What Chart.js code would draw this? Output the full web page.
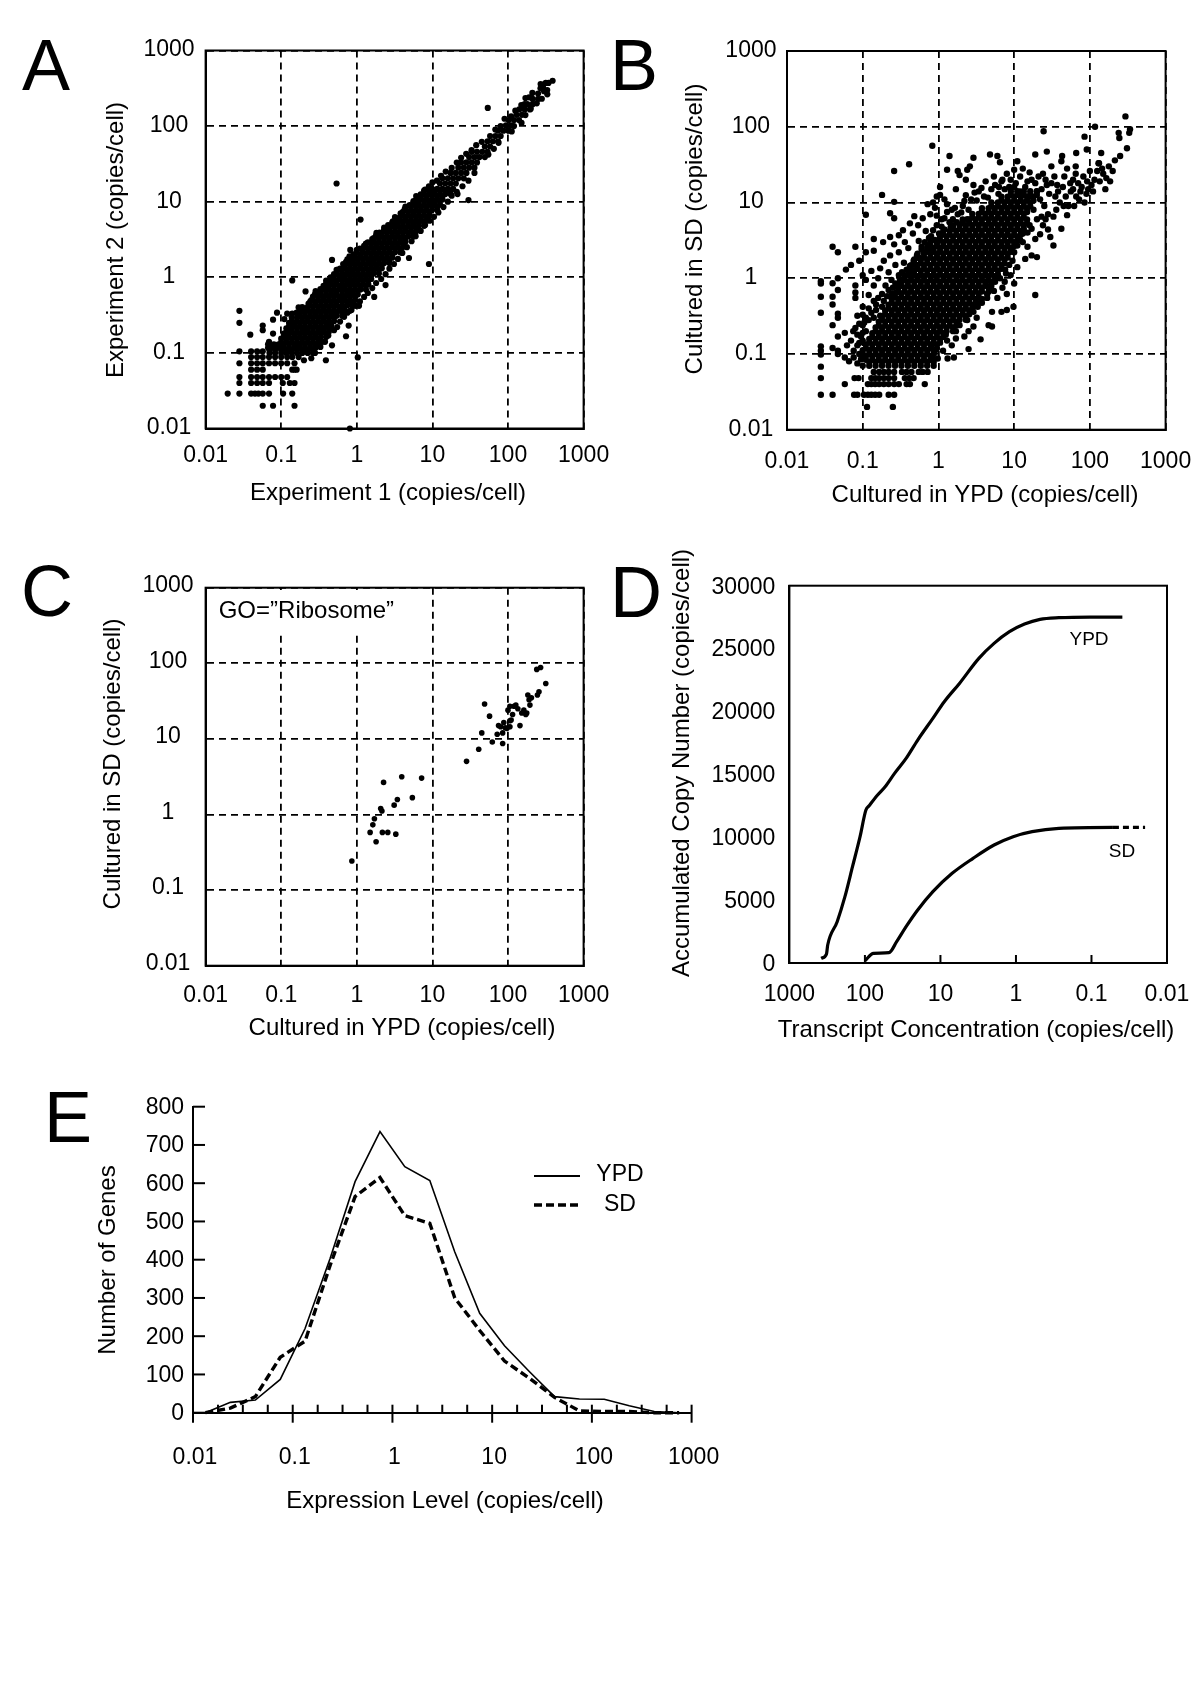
<!DOCTYPE html>
<html>
<head>
<meta charset="utf-8">
<title>Transcript copy number panels</title>
<script src="https://cdn.jsdelivr.net/npm/chart.js@4"></script>
<style>
	body { margin: 0; background: #fff; }
	canvas { position: absolute; left: 0; top: 0; }
	.letter { position: absolute; font: 72px "Liberation Sans", Arial, sans-serif; line-height: 72px; color: #000; }
</style>
</head>
<body>
<div style="position:relative;width:1200px;height:1697px;overflow:hidden">
	<canvas id="panelA" width="1200" height="1697"></canvas>
	<canvas id="panelB" width="1200" height="1697"></canvas>
	<canvas id="panelC" width="1200" height="1697"></canvas>
	<canvas id="panelD" width="1200" height="1697"></canvas>
	<canvas id="panelE" width="1200" height="1697"></canvas>
	<div class="letter" style="left:22px;top:29px">A</div>
	<div class="letter" style="left:610px;top:29px">B</div>
	<div class="letter" style="left:21px;top:555px">C</div>
	<div class="letter" style="left:610px;top:556px">D</div>
	<div class="letter" style="left:44px;top:1081px">E</div>
</div>
<script>
const decades = [0.01, 0.1, 1, 10, 100, 1000];
const FONT = '"Liberation Sans", Arial, sans-serif';

// Panel A: the dense band is read row by row (y value, then the x values on that row)
const expRowY = [0.1, 0.117, 0.138, 0.162, 0.19, 0.224, 0.263, 0.309, 0.363, 0.427, 0.5, 0.59, 0.69, 0.81, 0.95, 1.12, 1.32, 1.55, 1.82, 2.14, 2.51, 2.95, 3.47, 4.07, 4.79, 5.62, 6.6, 7.76, 9.12, 10.7, 12.6, 14.8, 17.4, 20.4, 24, 28.2, 33.1, 38.9, 45.7, 53.7, 63, 74, 87, 102, 120, 141, 166, 195, 229, 269, 316, 372];
const expFillRowY = [0.111, 0.13, 0.154, 0.18, 0.212, 0.25, 0.293, 0.344, 0.404, 0.476, 0.557, 0.657, 0.769, 0.902, 1.06, 1.25, 1.47, 1.73, 2.03, 2.38, 2.8, 3.29, 3.87, 4.53, 5.34, 6.26, 7.35, 8.64, 10.2, 11.9, 14];
const expRowX = [
	[0.07, 0.083, 0.1, 0.117, 0.138, 0.162, 0.19, 0.224, 0.263],
	[0.067, 0.08, 0.092, 0.108, 0.127, 0.15, 0.176, 0.206, 0.242, 0.285],
	[0.1, 0.117, 0.138, 0.162, 0.19, 0.224, 0.263, 0.309],
	[0.108, 0.127, 0.15, 0.176, 0.206, 0.242, 0.285, 0.335, 0.393],
	[0.117, 0.138, 0.162, 0.19, 0.224, 0.263, 0.309, 0.363, 0.427],
	[0.127, 0.15, 0.176, 0.206, 0.242, 0.285, 0.335, 0.393, 0.46],
	[0.138, 0.162, 0.19, 0.224, 0.263, 0.309, 0.363, 0.427, 0.5],
	[0.176, 0.206, 0.242, 0.285, 0.335, 0.393, 0.46, 0.54, 0.64],
	[0.19, 0.224, 0.263, 0.309, 0.363, 0.427, 0.5, 0.59, 0.69],
	[0.242, 0.285, 0.335, 0.393, 0.46, 0.54, 0.64, 0.75, 0.88],
	[0.263, 0.309, 0.363, 0.427, 0.5, 0.59, 0.69, 0.81, 0.95],
	[0.285, 0.335, 0.393, 0.46, 0.54, 0.64, 0.75, 0.88, 1.03],
	[0.363, 0.427, 0.5, 0.59, 0.69, 0.81, 0.95, 1.12, 1.32],
	[0.393, 0.46, 0.54, 0.64, 0.75, 0.88, 1.03, 1.21, 1.42],
	[0.5, 0.59, 0.69, 0.81, 0.95, 1.12, 1.32, 1.55],
	[0.54, 0.64, 0.75, 0.88, 1.03, 1.21, 1.42, 1.67, 1.96],
	[0.69, 0.81, 0.95, 1.12, 1.32, 1.55, 1.82, 2.14],
	[0.75, 0.88, 1.03, 1.21, 1.42, 1.67, 1.96, 2.3, 2.7],
	[0.95, 1.12, 1.32, 1.55, 1.82, 2.14, 2.51, 2.95],
	[1.21, 1.42, 1.67, 1.96, 2.3, 2.7, 3.2, 3.75],
	[1.32, 1.55, 1.82, 2.14, 2.51, 2.95, 3.47, 4.07],
	[1.67, 1.96, 2.3, 2.7, 3.2, 3.75, 4.4],
	[1.82, 2.14, 2.51, 2.95, 3.47, 4.07, 4.79, 5.62],
	[2.3, 2.7, 3.2, 3.75, 4.4, 5.2, 6.1],
	[2.95, 3.47, 4.07, 4.79, 5.62, 6.6, 7.76],
	[3.2, 3.75, 4.4, 5.2, 6.1, 7.1, 8.4],
	[4.07, 4.79, 5.62, 6.6, 7.76, 9.12],
	[4.4, 5.2, 6.1, 7.1, 8.4, 9.9, 11.6],
	[5.62, 6.6, 7.76, 9.12, 10.7, 12.6],
	[6.1, 7.1, 8.4, 9.9, 11.6, 13.6],
	[7.76, 9.12, 10.7, 12.6, 14.8, 17.4],
	[9.9, 11.6, 13.6, 16, 18.8],
	[12.6, 14.8, 17.4, 20.4],
	[13.6, 16, 18.8, 22, 26],
	[17.4, 20.4, 24, 28.2],
	[22, 26, 30.6, 36],
	[24, 28.2, 33.1, 38.9],
	[30.6, 36, 42, 49.4],
	[33.1, 38.9, 45.7, 53.7],
	[49.4, 58],
	[53.7, 63, 74],
	[68, 80],
	[74, 87, 102],
	[94, 110],
	[102, 120],
	[130, 153],
	[141, 166, 195],
	[166, 180, 212],
	[212, 250],
	[250],
	[269, 292],
	[316, 343],
];
// Panel A: the quantised low-count rows and the loose outliers
const expLooseX = [0.057, 0.078, 0.15, 0.0196, 0.028, 0.04, 0.045, 0.05, 0.057, 0.069, 0.106, 0.14, 0.028, 0.04, 0.048, 0.057, 0.069, 0.105, 0.13, 0.15, 0.028, 0.04, 0.048, 0.057, 0.069, 0.083, 0.1, 0.12, 0.04, 0.048, 0.057, 0.14, 0.15, 0.028, 0.04, 0.048, 0.057, 0.069, 0.083, 0.1, 0.12, 0.15, 0.04, 0.048, 0.057, 0.069, 0.083, 0.1, 0.12, 0.14, 0.17, 0.028, 0.04, 0.048, 0.057, 0.028, 0.028, 0.039, 0.057, 0.057, 0.078, 0.088, 0.078, 0.069, 0.075, 389, 331, 295, 54, 112, 151, 0.54, 1.12, 30, 21.5, 4.9, 9, 0.82, 0.47, 0.14, 0.21, 2.4, 1.7, 1.07, 0.81, 0.78, 0.72, 0.47, 0.39, 1.03, 0.81, 0.35, 0.42, 0.2, 0.16];
const expLooseY = [0.02, 0.02, 0.02, 0.029, 0.029, 0.029, 0.029, 0.029, 0.029, 0.029, 0.029, 0.029, 0.04, 0.04, 0.04, 0.04, 0.04, 0.04, 0.04, 0.04, 0.048, 0.048, 0.048, 0.048, 0.048, 0.048, 0.048, 0.048, 0.06, 0.06, 0.06, 0.06, 0.06, 0.073, 0.073, 0.073, 0.073, 0.073, 0.073, 0.073, 0.073, 0.073, 0.088, 0.088, 0.088, 0.088, 0.088, 0.088, 0.088, 0.088, 0.088, 0.105, 0.105, 0.105, 0.105, 0.36, 0.25, 0.174, 0.23, 0.2, 0.275, 0.34, 0.18, 0.14, 0.12, 398, 263, 355, 174, 85, 110, 17.4, 5.8, 10.5, 12.6, 1.8, 1.5, 2.3, 1.7, 0.91, 0.65, 0.79, 0.55, 0.42, 0.36, 0.23, 0.166, 0.126, 0.08, 0.087, 0.01, 0.14, 0.22, 0.08, 0.06];
// Panel A: dots along both edges of the band, as [exp 1, exp 2]
const expEdges = [
	[0.11, 0.28], [0.12, 0.33], [0.14, 0.33], [0.16, 0.34], [0.19, 0.36], [0.13, 0.24], [0.12, 0.2], [0.11, 0.17], [0.17, 0.4], [0.23, 0.45], [0.25, 0.5], [0.28, 0.6], [0.3, 0.62], [0.33, 0.7], [0.37, 0.75], [0.4, 0.85], [0.45, 1], [0.5, 1.1], [0.55, 1.25], [0.6, 1.3], [0.66, 1.5], [0.72, 1.6], [0.8, 1.9], [0.9, 2], [1, 2.3], [1.1, 2.4], [1.25, 2.6], [1.4, 2.9], [1.6, 3.2], [1.8, 3.6], [2, 3.9], [2.3, 4.2], [2.6, 4.9], [3, 5.5], [3.4, 6], [3.8, 7], [4.3, 8], [5, 9], [5.6, 9.8], [6.3, 11.5], [7, 12.5], [8, 14.5], [9, 16], [10, 18], [11.5, 19], [13, 22], [15, 25], [18, 28], [21, 33], [24, 38], [28, 43], [33, 48], [38, 56], [45, 62],
	[0.25, 0.085], [0.28, 0.1], [0.33, 0.12], [0.38, 0.14], [0.42, 0.17], [0.5, 0.2], [0.55, 0.22], [0.6, 0.26], [0.68, 0.3], [0.75, 0.34], [0.85, 0.37], [0.95, 0.42], [1.1, 0.48], [1.25, 0.55], [1.4, 0.62], [1.6, 0.72], [1.8, 0.84], [2.1, 0.95], [2.4, 1.1], [2.7, 1.3], [3.1, 1.5], [3.5, 1.75], [4, 2.1], [4.6, 2.5], [5.3, 3], [6, 3.5], [7, 4.1], [8, 4.9], [9.2, 5.6], [10.5, 6.3], [12, 7.2], [14, 8.5], [16, 10], [18, 12], [21, 13.5], [25, 16], [30, 19], [36, 24],
	[58, 74], [68, 90], [80, 100], [90, 125], [110, 135], [125, 160], [150, 190], [170, 235], [190, 240], [210, 275], [270, 360], [300, 290], [55, 42], [65, 50], [75, 60], [100, 88], [120, 100], [140, 120], [170, 140], [200, 170], [240, 200], [280, 230], [330, 300],
];

// Panel B: same layout, core of the cloud by rows
const growRowY = [0.07, 0.084, 0.1, 0.119, 0.141, 0.168, 0.2, 0.237, 0.282, 0.335, 0.398, 0.473, 0.562, 0.668, 0.794, 0.944, 1.12, 1.33, 1.58, 1.88, 2.24, 2.66, 3.16, 3.76, 4.47, 5.31, 6.31, 7.5, 8.91, 10.6, 12.6];
const growFillRowY = [0.0785, 0.094, 0.112, 0.134, 0.158, 0.188, 0.224, 0.266, 0.316, 0.376, 0.447, 0.531, 0.631, 0.75, 0.891, 1.06, 1.26, 1.49, 1.77, 2.11, 2.51, 2.98, 3.55, 4.22, 5.02, 5.96, 7.08, 8.41, 10, 11.9, 14.1];
const growRowX = [
	[0.122, 0.148, 0.18, 0.219, 0.267, 0.325, 0.395, 0.48, 0.585, 0.71, 0.865],
	[0.11, 0.134, 0.163, 0.198, 0.242, 0.294, 0.358, 0.435, 0.53, 0.645, 0.785],
	[0.1, 0.122, 0.148, 0.18, 0.219, 0.267, 0.325, 0.395, 0.48, 0.585, 0.71, 0.865],
	[0.11, 0.134, 0.163, 0.198, 0.242, 0.294, 0.358, 0.435, 0.53, 0.645, 0.785, 0.955],
	[0.122, 0.148, 0.18, 0.219, 0.267, 0.325, 0.395, 0.48, 0.585, 0.71, 0.865, 1.05],
	[0.134, 0.163, 0.198, 0.242, 0.294, 0.358, 0.435, 0.53, 0.645, 0.785, 0.955, 1.16],
	[0.148, 0.18, 0.219, 0.267, 0.325, 0.395, 0.48, 0.585, 0.71, 0.865, 1.05, 1.28, 1.56],
	[0.163, 0.198, 0.242, 0.294, 0.358, 0.435, 0.53, 0.645, 0.785, 0.955, 1.16, 1.41, 1.72],
	[0.18, 0.219, 0.267, 0.325, 0.395, 0.48, 0.585, 0.71, 0.865, 1.05, 1.28, 1.56, 1.9, 2.3],
	[0.198, 0.242, 0.294, 0.358, 0.435, 0.53, 0.645, 0.785, 0.955, 1.16, 1.41, 1.72, 2.09, 2.55],
	[0.219, 0.267, 0.325, 0.395, 0.48, 0.585, 0.71, 0.865, 1.05, 1.28, 1.56, 1.9, 2.3, 2.8],
	[0.242, 0.294, 0.358, 0.435, 0.53, 0.645, 0.785, 0.955, 1.16, 1.41, 1.72, 2.09, 2.55, 3.1, 3.75],
	[0.267, 0.325, 0.395, 0.48, 0.585, 0.71, 0.865, 1.05, 1.28, 1.56, 1.9, 2.3, 2.8, 3.4],
	[0.294, 0.358, 0.435, 0.53, 0.645, 0.785, 0.955, 1.16, 1.41, 1.72, 2.09, 2.55, 3.1, 3.75, 4.6],
	[0.325, 0.395, 0.48, 0.585, 0.71, 0.865, 1.05, 1.28, 1.56, 1.9, 2.3, 2.8, 3.4, 4.15, 5],
	[0.358, 0.435, 0.53, 0.645, 0.785, 0.955, 1.16, 1.41, 1.72, 2.09, 2.55, 3.1, 3.75, 4.6, 5.55],
	[0.395, 0.48, 0.585, 0.71, 0.865, 1.05, 1.28, 1.56, 1.9, 2.3, 2.8, 3.4, 4.15, 5, 6.1],
	[0.435, 0.53, 0.645, 0.785, 0.955, 1.16, 1.41, 1.72, 2.09, 2.55, 3.1, 3.75, 4.6, 5.55, 6.8],
	[0.48, 0.585, 0.71, 0.865, 1.05, 1.28, 1.56, 1.9, 2.3, 2.8, 3.4, 4.15, 5, 6.1, 7.45],
	[0.53, 0.645, 0.785, 0.955, 1.16, 1.41, 1.72, 2.09, 2.55, 3.1, 3.75, 4.6, 5.55, 6.8, 8.2],
	[0.71, 0.865, 1.05, 1.28, 1.56, 1.9, 2.3, 2.8, 3.4, 4.15, 5, 6.1, 7.45, 9.05],
	[0.785, 0.955, 1.16, 1.41, 1.72, 2.09, 2.55, 3.1, 3.75, 4.6, 5.55, 6.8, 8.2, 10],
	[1.05, 1.28, 1.56, 1.9, 2.3, 2.8, 3.4, 4.15, 5, 6.1, 7.45, 9.05, 11],
	[1.16, 1.41, 1.72, 2.09, 2.55, 3.1, 3.75, 4.6, 5.55, 6.8, 8.2, 10, 12.2],
	[1.56, 1.9, 2.3, 2.8, 3.4, 4.15, 5, 6.1, 7.45, 9.05, 11, 13.4],
	[2.09, 2.55, 3.1, 3.75, 4.6, 5.55, 6.8, 8.2, 10, 12.2, 14.8],
	[2.8, 3.4, 4.15, 5, 6.1, 7.45, 9.05, 11, 13.4],
	[3.75, 4.6, 5.55, 6.8, 8.2, 10, 12.2, 14.8],
	[5, 6.1, 7.45, 9.05, 11, 13.4, 16.3],
	[6.8, 8.2, 10, 12.2, 14.8, 18],
	[9.05, 11, 13.4, 16.3, 19.9],
];
// Panel B: everything outside the solid core, as [YPD, SD]
const growLoose = [
	[295, 137], [117, 100], [24.5, 87], [85, 74], [240, 83], [245, 71], [339, 93], [331, 83], [309, 52], [251, 41], [214, 36], [178, 30],
	[0.83, 56], [1.4, 41], [0.41, 32], [0.26, 26], [0.18, 12.6], [0.26, 10.2], [0.23, 7.2], [0.26, 6.2], [0.11, 6.9],
	[4.8, 43], [6, 41], [6.5, 34], [2.9, 39], [2.6, 30], [1.3, 27], [1.8, 26], [2.4, 27], [11, 35], [10, 27],
	[19, 43], [27, 47], [43, 41], [66, 45], [65, 30], [91, 50], [141, 45], [132, 33],
	[14, 16], [17, 20], [20, 14], [24, 24], [27, 17], [31, 30], [34, 22], [38, 14], [42, 35], [46, 22], [50, 28], [55, 18], [60, 15], [62, 9], [66, 12], [70, 18], [75, 14], [85, 10], [90, 13], [95, 15], [105, 17], [115, 20], [125, 26], [135, 19], [150, 24], [165, 21], [185, 19], [200, 26], [160, 15], [130, 33], [145, 28],
	[22, 11], [25, 9], [28, 7], [33, 6.5], [18, 8], [20, 6], [24, 5], [30, 3.5], [33, 2.7], [42, 4.5], [36, 8], [45, 9], [50, 6.8], [16, 5], [13, 3], [15, 2.6], [17, 2], [20, 1.9], [14, 1.8], [11, 1.4], [9, 1.1], [7.6, 1.3],
	[19, 0.6], [9.8, 0.42], [8, 0.38], [6.8, 0.36], [5.1, 0.36], [5.1, 0.23], [4.6, 0.24], [3.6, 0.156], [2.5, 0.116], [1.32, 0.087], [0.98, 0.087], [7, 0.75], [5.4, 0.68], [4.4, 0.55], [3.2, 0.3], [2.9, 0.23], [2.2, 0.17], [1.7, 0.2], [1.3, 0.15],
	[0.028, 0.91], [0.028, 0.85], [0.028, 0.57], [0.028, 0.35], [0.028, 0.126], [0.028, 0.11], [0.028, 0.098], [0.028, 0.068], [0.028, 0.048], [0.028, 0.029],
	[0.04, 0.86], [0.04, 0.57], [0.04, 0.45], [0.04, 0.24], [0.04, 0.12], [0.04, 0.029], [0.047, 1], [0.047, 0.7], [0.047, 0.34], [0.047, 0.3], [0.047, 0.17], [0.047, 0.11], [0.047, 0.1],
	[0.058, 0.19], [0.058, 0.09], [0.062, 0.13], [0.066, 0.08], [0.07, 0.15], [0.076, 0.11], [0.076, 0.09], [0.08, 0.22], [0.085, 0.32], [0.085, 0.13], [0.09, 0.25], [0.095, 0.17], [0.1, 0.33], [0.1, 0.24], [0.11, 0.3], [0.11, 0.2],
	[0.04, 2.6], [0.047, 2.2], [0.08, 2.6], [0.11, 2.2], [0.14, 3.3], [0.14, 2.3], [0.186, 3], [0.23, 3.5], [0.3, 3.7], [0.06, 1.3], [0.07, 1.5], [0.09, 1.7], [0.1, 1.1], [0.11, 0.95], [0.13, 1.25], [0.14, 0.8], [0.16, 1], [0.08, 0.8], [0.08, 0.65], [0.08, 0.55], [0.1, 0.42], [0.12, 0.6], [0.14, 0.5], [0.15, 0.38], [0.18, 0.62], [0.2, 0.8], [0.22, 1.2], [0.19, 1.7], [0.23, 2], [0.27, 1.5], [0.3, 2.2], [0.26, 2.8], [0.17, 1.35], [0.24, 0.95], [0.3, 1.1], [0.35, 1.6], [0.4, 2.5], [0.36, 3],
	[0.34, 4.3], [0.42, 5.3], [0.48, 6.6], [0.46, 3.9], [0.55, 3.1], [0.68, 4.2], [0.54, 5], [0.62, 6.2], [0.78, 7], [0.9, 8.5], [0.95, 12], [1.05, 12.6], [1.2, 11], [0.95, 6.7], [1.2, 6.2], [1.5, 8], [1.8, 7], [2.1, 9], [2.4, 6], [1.1, 4.8], [1.45, 4.7], [0.8, 3.6], [0.6, 2.4], [0.72, 9.5], [1.3, 9.5], [1.7, 15], [2.3, 12.5], [2.9, 17], [3.2, 10.6], [3.7, 15.5], [4.5, 11.6], [5.6, 17], [7, 20], [8.6, 16], [10.5, 18], [6.2, 13], [1.05, 16], [0.85, 10], [2.3, 20], [1.9, 23],
	[0.114, 0.02], [0.25, 0.02], [0.077, 0.029], [0.085, 0.029], [0.104, 0.029], [0.117, 0.029], [0.13, 0.029], [0.146, 0.029], [0.165, 0.029], [0.22, 0.029], [0.26, 0.029],
	[0.058, 0.04], [0.078, 0.048], [0.088, 0.048], [0.117, 0.04], [0.13, 0.04], [0.146, 0.04], [0.165, 0.04], [0.19, 0.04], [0.22, 0.04], [0.26, 0.04], [0.3, 0.04], [0.38, 0.04], [0.42, 0.04], [0.66, 0.04],
	[0.13, 0.048], [0.146, 0.048], [0.165, 0.048], [0.19, 0.048], [0.22, 0.048], [0.26, 0.048], [0.36, 0.048], [0.41, 0.048], [0.47, 0.048], [0.14, 0.058], [0.165, 0.058], [0.19, 0.058], [0.22, 0.058], [0.26, 0.058], [0.33, 0.058], [0.38, 0.058], [0.44, 0.058], [0.55, 0.058], [0.62, 0.058], [0.72, 0.058],
	[0.12, 0.4], [0.13, 0.35], [0.14, 0.3], [0.15, 0.45], [0.16, 0.55], [0.17, 0.32], [0.18, 0.42], [0.19, 0.5], [0.21, 0.58], [0.22, 0.7], [0.24, 0.62], [0.25, 0.75], [0.27, 0.85], [0.28, 0.65], [0.3, 0.8], [0.31, 0.95], [0.33, 1.2], [0.36, 1.05], [0.38, 1.3], [0.42, 1.45], [0.44, 1.2], [0.47, 1.7], [0.5, 1.5], [0.52, 2], [0.56, 1.85], [0.6, 2.6], [0.64, 2.2], [0.66, 3], [0.72, 2.7], [0.75, 3.4], [0.8, 2.5], [0.85, 4.3], [0.9, 3.2], [0.95, 5], [1.02, 3.9], [1.1, 6], [1.2, 4.4], [1.3, 7.5], [1.4, 5.5], [1.55, 6], [1.65, 8.5], [1.75, 5.5], [2, 7.4], [2.2, 10.5], [2.5, 8], [2.7, 11], [3, 13.5], [3.4, 14], [4, 12], [4.2, 19], [5, 15], [5.4, 22], [6.3, 16], [6.8, 19], [7.5, 15], [8, 24], [9, 20], [10, 16], [12, 22], [13, 28], [12, 14], [15, 19], [16, 25], [17, 12], [19, 18], [21, 22], [23, 15], [26, 20], [29, 13], [31, 18], [35, 12], [37, 17], [40, 10], [44, 16], [48, 12], [52, 9], [56, 14], [60, 20], [65, 24], [72, 11], [78, 16], [82, 22], [92, 19], [100, 26], [110, 14],
	[2.4, 0.28], [2.9, 0.36], [3.3, 0.42], [3.6, 0.48], [4.4, 0.62], [4.9, 0.8], [5.6, 0.9], [6.5, 1], [7.8, 1.15], [8.6, 1.5], [9.5, 1.7], [10, 2.2], [9, 2.5], [11, 2.7], [12, 3.2], [13, 3.9], [15, 4], [17, 4.5], [19, 3.3], [22, 3.8], [23, 6.5], [26, 6], [28, 4.4], [8, 0.62], [10, 0.85], [7.5, 0.9], [6, 0.55], [1.5, 0.13], [1.15, 0.11], [0.9, 0.11], [0.8, 0.13], [1.9, 0.24], [2.5, 0.2], [1.6, 0.09], [0.85, 0.085], [1.25, 0.18], [1.7, 0.16],
	[0.085, 0.075], [0.09, 0.1], [0.095, 0.085], [0.1, 0.07], [0.09, 0.14], [0.085, 0.18], [0.075, 0.2], [0.1, 0.15], [0.1, 0.19], [0.105, 0.26], [0.12, 0.28],
];

// Panel C: ribosomal genes
const riboYpd = [0.86, 1.5, 1.8, 2.18, 2.57, 3.28, 1.63, 1.71, 2.07, 2.15, 3.12, 3.44, 5.43, 2.26, 3.93, 7.2, 28.3, 41, 45, 49, 57, 62, 72, 75, 85, 85, 88, 97, 106, 106, 110, 100, 106, 120, 127, 144, 152, 162, 177, 195, 183, 204, 245, 257, 316, 240, 270, 92, 80, 115, 135, 172, 190];
const riboSd = [0.243, 0.58, 0.437, 0.58, 0.58, 0.55, 0.73, 0.88, 1.2, 1.11, 1.33, 1.58, 1.67, 2.66, 3.16, 3.03, 5.05, 7.3, 12, 29, 20, 9.1, 11.5, 15, 8.7, 12, 16.5, 13.8, 14.5, 17.4, 17.8, 24, 27, 27, 28, 15, 22, 24, 22, 28, 38, 35, 38, 42, 54, 83, 88, 14, 14.5, 21, 25, 21, 33];

// Panel D: accumulated copy number against concentration
const accumYpdX = [380, 323, 311, 233, 184, 146, 116, 97, 88, 68, 54, 40.5, 28.5, 20, 12.6, 8.9, 5.6, 3.1, 1.95, 1.22, 0.77, 0.48, 0.27, 0.105, 0.039];
const accumYpdY = [371, 715, 1431, 3286, 5273, 7658, 10043, 12163, 12500, 13356, 14018, 15078, 16271, 17728, 19451, 20776, 22233, 24221, 25413, 26341, 26950, 27321, 27454, 27507, 27507];
const accumSdX = [100, 77, 48, 38, 28.5, 20, 12.6, 7, 3.7, 1.95, 1.09, 0.61, 0.27, 0.052, 0.0195];
const accumSdY = [186, 769, 822, 1696, 2889, 4214, 5671, 7129, 8321, 9381, 10044, 10441, 10706, 10786, 10786];
const accumTicks = [100, 10, 1, 0.1];
const accumYTicks = [0, 5000, 10000, 15000, 20000, 25000, 30000];

// Panel E: histogram of expression levels
const binCentres = [0.0133, 0.0237, 0.0422, 0.075, 0.133, 0.237, 0.422, 0.75, 1.33, 2.37, 4.22, 7.5, 13.3, 23.7, 42.2, 75, 133, 237, 422, 750];
const genesYpd = [0, 27, 33, 87, 220, 403, 604, 735, 643, 607, 420, 260, 175, 107, 42, 36, 35, 18, 3, 0];
const genesSd = [0, 12, 42, 145, 187, 385, 565, 615, 515, 495, 300, 215, 135, 90, 40, 5, 3, 3, 0, 0];
const histMinorTicks = [0.0178, 0.0316, 0.0562, 0.178, 0.316, 0.562, 1.78, 3.16, 5.62, 17.8, 31.6, 56.2, 178, 316, 562];
const histYTicks = [0, 100, 200, 300, 400, 500, 600, 700, 800];

function rowsToPoints(rowY, rowX) {
	return rowY.flatMap((y, i) => rowX[i].map((x) => ({ x, y })));
}

// Writes real text on the canvas, optionally rotated
function drawText(ctx, text, x, y, size, rotate, align) {
	ctx.save();
	ctx.translate(x, y);
	if (rotate) ctx.rotate(-Math.PI / 2);
	ctx.font = `${size}px ${FONT}`;
	ctx.fillStyle = "#000";
	ctx.textAlign = align || "center";
	ctx.textBaseline = "middle";
	ctx.fillText(text, 0, 0);
	ctx.restore();
}

function notesPlugin(notes) {
	return {
		id: "notes",
		afterDraw(chart) {
			notes.forEach((n) => drawText(chart.ctx, n.text, n.x, n.y, n.size || 24, n.rotate, n.align));
		},
	};
}

const framePlugin = {
	id: "frame",
	afterDatasetsDraw(chart) {
		const { ctx, chartArea: a } = chart;
		ctx.save();
		ctx.strokeStyle = "#000";
		ctx.lineWidth = 2;
		ctx.strokeRect(a.left, a.top, a.right - a.left, a.bottom - a.top);
		ctx.restore();
	},
};

// Shared set up: places the plot area at page coordinates
function areaPadding(box, yWidth, xHeight) {
	return {
		left: box.left - yWidth,
		top: box.top,
		right: 1200 - box.right,
		bottom: 1697 - box.bottom - xHeight,
	};
}

function fitX(height) {
	return (s) => { s.height = height; s.paddingLeft = 0; s.paddingRight = 0; };
}

function fitY(width) {
	return (s) => { s.width = width; s.paddingTop = 0; s.paddingBottom = 0; };
}

function logScale(extra) {
	return Object.assign({
		type: "logarithmic",
		min: 0.01,
		max: 1000,
		afterBuildTicks: (s) => { s.ticks = decades.map((value) => ({ value })); },
	}, extra);
}

function decadeTicks(padding, extra) {
	return Object.assign({
		autoSkip: false,
		maxRotation: 0,
		padding,
		color: "#000",
		font: { family: FONT, size: 23 },
		callback: (v) => String(v),
	}, extra);
}

function scatterPanel(id, box, points, dot, pad, notes, extraPlugins) {
	const dash = [7, 5];
	const gridOpts = { color: "#000", lineWidth: 1.8, drawTicks: false };
	new Chart(document.getElementById(id), {
		type: "scatter",
		data: { datasets: [{ data: points, backgroundColor: "#000", pointRadius: dot, borderWidth: 0, clip: false }] },
		options: {
			responsive: false,
			animation: false,
			events: [],
			layout: { padding: areaPadding(box, 80, 60) },
			plugins: { legend: { display: false }, tooltip: { enabled: false } },
			scales: {
				x: logScale({
					afterFit: fitX(60),
					grid: gridOpts,
					border: { dash, color: "#000", width: 2 },
					ticks: decadeTicks(pad.x),
				}),
				y: logScale({
					afterFit: fitY(80),
					grid: gridOpts,
					border: { dash, color: "#000", width: 2 },
					ticks: decadeTicks(pad.y, { crossAlign: "center", labelOffset: pad.shift }),
				}),
			},
		},
		plugins: [framePlugin, notesPlugin(notes)].concat(extraPlugins || []),
	});
}

const expPoints = rowsToPoints(expRowY, expRowX)
	.concat(rowsToPoints(expFillRowY, expRowX))
	.concat(expLooseX.map((x, i) => ({ x, y: expLooseY[i] })))
	.concat(expEdges.map(([x, y]) => ({ x, y })));
scatterPanel("panelA", { left: 205.6, right: 583.6, top: 50.5, bottom: 428.5 }, expPoints, 3.1, { x: 13, y: 11, shift: -0.5 }, [
	{ text: "Experiment 1 (copies/cell)", x: 388, y: 493 },
	{ text: "Experiment 2 (copies/cell)", x: 116.6, y: 240, rotate: true },
]);

const growPoints = rowsToPoints(growRowY, growRowX)
	.concat(rowsToPoints(growFillRowY, growRowX))
	.concat(growLoose.map(([x, y]) => ({ x, y })));
scatterPanel("panelB", { left: 787, right: 1165.6, top: 51, bottom: 429.7 }, growPoints, 3.2, { x: 18, y: 10.5, shift: -0.5 }, [
	{ text: "Cultured in YPD (copies/cell)", x: 985, y: 495 },
	{ text: "Cultured in SD (copies/cell)", x: 695.7, y: 229, rotate: true },
]);

// The label in panel C sits on a white patch that interrupts the grid
const goPatch = {
	id: "goPatch",
	beforeDatasetsDraw(chart) {
		const { ctx } = chart;
		ctx.save();
		ctx.fillStyle = "#fff";
		ctx.fillRect(212, 590, 190, 42);
		ctx.restore();
	},
};
scatterPanel("panelC", { left: 205.6, right: 583.6, top: 587.7, bottom: 965.7 }, riboYpd.map((x, i) => ({ x, y: riboSd[i] })), 2.8, { x: 16, y: 12, shift: -2 }, [
	{ text: "Cultured in YPD (copies/cell)", x: 402, y: 1028 },
	{ text: "Cultured in SD (copies/cell)", x: 113.5, y: 764, rotate: true },
	{ text: "GO=”Ribosome”", x: 218.7, y: 611, size: 24, align: "left" },
], [goPatch]);

// Short ticks drawn from the axis line, used by panels D and E
function tickMarksPlugin(draw) {
	return {
		id: "tickMarks",
		afterDatasetsDraw(chart) {
			const { ctx, scales } = chart;
			ctx.save();
			ctx.strokeStyle = "#000";
			ctx.lineWidth = 2;
			draw(ctx, scales, (x1, y1, x2, y2) => {
				ctx.beginPath();
				ctx.moveTo(x1, y1);
				ctx.lineTo(x2, y2);
				ctx.stroke();
			});
			ctx.restore();
		},
	};
}

const dBox = { left: 789.4, right: 1167, top: 585.7, bottom: 963 };
const curveLine = { showLine: true, cubicInterpolationMode: "monotone", pointRadius: 0, borderColor: "#000", borderWidth: 3.2 };
new Chart(document.getElementById("panelD"), {
	type: "scatter",
	data: {
		datasets: [
			Object.assign({ data: accumYpdX.map((x, i) => ({ x, y: accumYpdY[i] })) }, curveLine),
			Object.assign({
				data: accumSdX.map((x, i) => ({ x, y: accumSdY[i] })),
				segment: { borderDash: (c) => (c.p0.parsed.x < 0.06 ? [6, 4] : undefined) },
			}, curveLine),
		],
	},
	options: {
		responsive: false,
		animation: false,
		events: [],
		layout: { padding: areaPadding(dBox, 100, 60) },
		plugins: { legend: { display: false }, tooltip: { enabled: false } },
		scales: {
			x: logScale({
				reverse: true,
				afterFit: fitX(60),
				grid: { display: false, drawTicks: false },
				border: { color: "#000", width: 2 },
				ticks: decadeTicks(18),
			}),
			y: {
				min: 0,
				max: 30000,
				afterFit: fitY(100),
				afterBuildTicks: (s) => { s.ticks = accumYTicks.map((value) => ({ value })); },
				grid: { display: false, drawTicks: false },
				border: { color: "#000", width: 2 },
				ticks: { autoSkip: false, padding: 14, labelOffset: 1.5, color: "#000", font: { family: FONT, size: 23 }, callback: (v) => String(v) },
			},
		},
	},
	plugins: [framePlugin, notesPlugin([
		{ text: "Transcript Concentration (copies/cell)", x: 976, y: 1030 },
		{ text: "Accumulated Copy Number (copies/cell)", x: 682.3, y: 763, rotate: true },
		{ text: "YPD", x: 1089, y: 640, size: 19 },
		{ text: "SD", x: 1122, y: 852, size: 19 },
	]), tickMarksPlugin((ctx, scales, line) => {
		accumTicks.forEach((v) => {
			const x = scales.x.getPixelForValue(v);
			line(x, scales.y.bottom, x, scales.y.bottom - 8);
		});
	})],
});

const eBox = { left: 193, right: 691.6, top: 1106.7, bottom: 1412.7 };
new Chart(document.getElementById("panelE"), {
	type: "scatter",
	data: {
		datasets: [
			{ data: binCentres.map((x, i) => ({ x, y: genesYpd[i] })), showLine: true, tension: 0, pointRadius: 0, borderColor: "#000", borderWidth: 1.6, clip: false },
			{ data: binCentres.map((x, i) => ({ x, y: genesSd[i] })), showLine: true, tension: 0, pointRadius: 0, borderColor: "#000", borderWidth: 3.4, borderDash: [8, 4], clip: false },
		],
	},
	options: {
		responsive: false,
		animation: false,
		events: [],
		layout: { padding: areaPadding(eBox, 60, 80) },
		plugins: { legend: { display: false }, tooltip: { enabled: false } },
		scales: {
			x: logScale({
				afterFit: fitX(80),
				grid: { display: false, drawTicks: false },
				border: { color: "#000", width: 2 },
				ticks: decadeTicks(31, { labelOffset: 2 }),
			}),
			y: {
				min: 0,
				max: 800,
				afterFit: fitY(60),
				afterBuildTicks: (s) => { s.ticks = histYTicks.map((value) => ({ value })); },
				grid: { display: false, drawTicks: false },
				border: { color: "#000", width: 2 },
				ticks: { autoSkip: false, padding: 9, labelOffset: 1, color: "#000", font: { family: FONT, size: 23 }, callback: (v) => String(v) },
			},
		},
	},
	plugins: [notesPlugin([
		{ text: "Expression Level (copies/cell)", x: 445, y: 1501.7 },
		{ text: "Number of Genes", x: 108, y: 1260, rotate: true },
		{ text: "YPD", x: 620, y: 1175, size: 23 },
		{ text: "SD", x: 620, y: 1205, size: 23 },
	]), tickMarksPlugin((ctx, scales, line) => {
		const bottom = scales.y.bottom;
		const left = scales.x.left;
		decades.forEach((v) => {
			const x = scales.x.getPixelForValue(v);
			line(x, bottom - 8, x, bottom + 10);
		});
		histMinorTicks.forEach((v) => {
			const x = scales.x.getPixelForValue(v);
			line(x, bottom, x, bottom - 8);
		});
		histYTicks.forEach((v) => {
			const y = scales.y.getPixelForValue(v);
			line(left, y, left + 12, y);
		});
		// legend samples
		line(534, 1176, 580, 1176);
		ctx.lineWidth = 3.4;
		ctx.setLineDash([8, 4]);
		line(534, 1205, 580, 1205);
		ctx.setLineDash([]);
	})],
});
</script>
</body>
</html>
